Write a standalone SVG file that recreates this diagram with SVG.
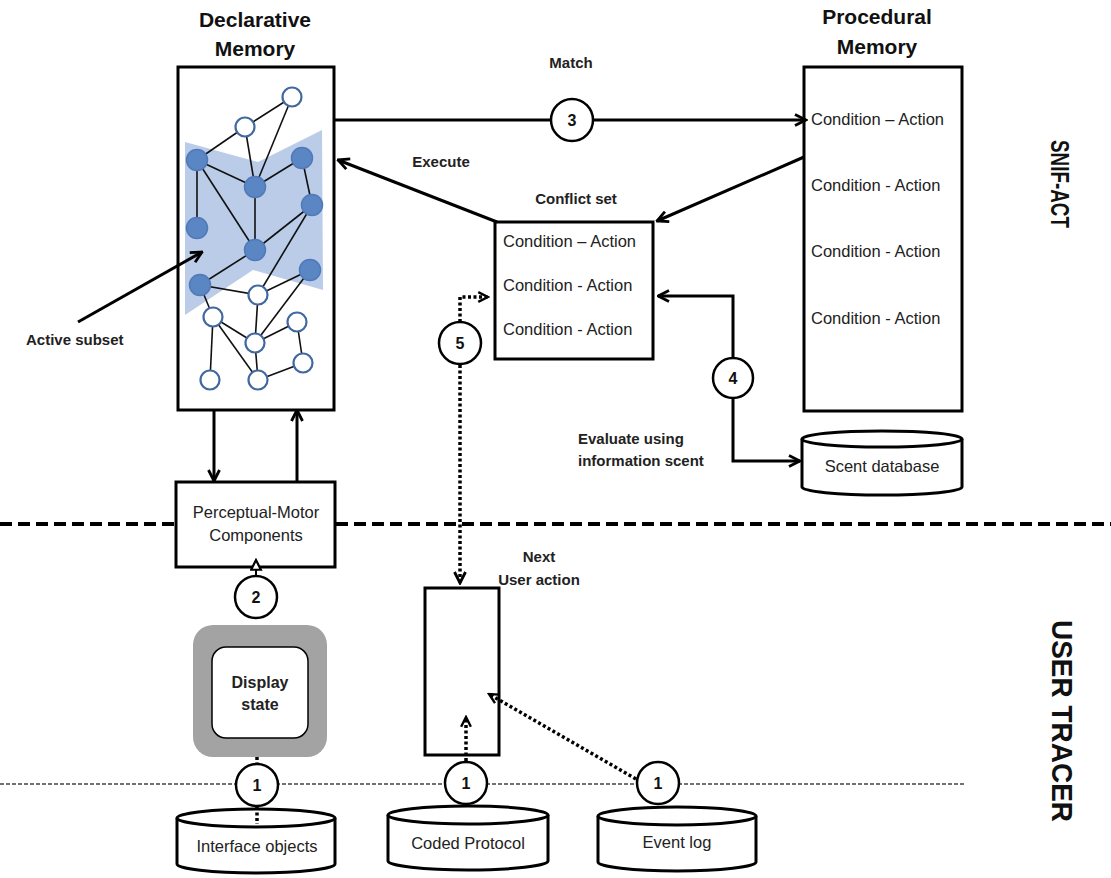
<svg xmlns="http://www.w3.org/2000/svg" width="1111" height="878" viewBox="0 0 1111 878">
<style>
.box{fill:#fff;stroke:#000;stroke-width:3}
.t{font-family:"Liberation Sans",Arial,sans-serif;font-size:16.5px;fill:#222}
.b{font-family:"Liberation Sans",Arial,sans-serif;font-size:15px;font-weight:bold;fill:#222}
.h{font-family:"Liberation Sans",Arial,sans-serif;font-size:21px;font-weight:bold;fill:#111;text-anchor:middle}
.num{font-family:"Liberation Sans",Arial,sans-serif;font-size:16px;font-weight:bold;fill:#111;text-anchor:middle}
.c{text-anchor:middle}
.ln{fill:none;stroke:#000;stroke-width:3}
.dot{fill:none;stroke:#000;stroke-width:3.5;stroke-dasharray:3 2.5}
.circ{fill:#fff;stroke:#000;stroke-width:2.5}
.e{stroke:#111;stroke-width:1.6}
.on{fill:#fff;stroke:#41689f;stroke-width:2.2}
.fn{fill:#5b86c4;stroke:#5079b8;stroke-width:1.5}
.cyl{fill:#fff;stroke:#000;stroke-width:3}
</style>
<defs>
<marker id="arr" viewBox="0 0 14 14" refX="12.5" refY="7" markerWidth="14" markerHeight="14" markerUnits="userSpaceOnUse" orient="auto">
<path d="M1.5,1.5 L12.5,7 L1.5,12.5" fill="none" stroke="#000" stroke-width="2.8"/>
</marker>
<marker id="arrs" viewBox="0 0 12 12" refX="10.5" refY="6" markerWidth="13" markerHeight="13" markerUnits="userSpaceOnUse" orient="auto">
<path d="M1.5,1.5 L10.5,6 L1.5,10.5" fill="none" stroke="#000" stroke-width="2.2"/>
</marker>
<marker id="tri" viewBox="0 0 12 12" refX="10.5" refY="6" markerWidth="13" markerHeight="13" markerUnits="userSpaceOnUse" orient="auto">
<path d="M1.5,1.5 L10.5,6 L1.5,10.5 Z" fill="#fff" stroke="#000" stroke-width="2"/>
</marker>
</defs>

<!-- section dividers -->
<g id="dividers">
<line x1="0" y1="524" x2="176" y2="524" stroke="#000" stroke-width="4" stroke-dasharray="12 6"/>
<line x1="336" y1="524" x2="1111" y2="524" stroke="#000" stroke-width="4" stroke-dasharray="12 6"/>
<line x1="0" y1="784" x2="966" y2="784" stroke="#444" stroke-width="1.3" stroke-dasharray="4 2"/>
</g>

<!-- Declarative memory -->
<g id="declarative-memory">
<text class="h" x="255" y="27">Declarative</text>
<text class="h" x="255" y="56">Memory</text>
<rect class="box" x="178" y="67" width="156" height="343"/>
<polygon points="185,142 258,162 322,130 323,290 253,270 185,315" fill="#b4c7e7" opacity="0.9"/>
<g id="network-edges">
<line class="e" x1="292" y1="97" x2="245" y2="127"/>
<line class="e" x1="292" y1="97" x2="255" y2="187"/>
<line class="e" x1="245" y1="127" x2="197" y2="160"/>
<line class="e" x1="245" y1="127" x2="255" y2="187"/>
<line class="e" x1="197" y1="160" x2="255" y2="187"/>
<line class="e" x1="197" y1="160" x2="197" y2="228"/>
<line class="e" x1="197" y1="160" x2="255" y2="250"/>
<line class="e" x1="255" y1="187" x2="302" y2="158"/>
<line class="e" x1="255" y1="187" x2="255" y2="250"/>
<line class="e" x1="302" y1="158" x2="312" y2="205"/>
<line class="e" x1="312" y1="205" x2="255" y2="250"/>
<line class="e" x1="312" y1="205" x2="258" y2="295"/>
<line class="e" x1="255" y1="250" x2="200" y2="285"/>
<line class="e" x1="200" y1="285" x2="258" y2="295"/>
<line class="e" x1="200" y1="285" x2="213" y2="317"/>
<line class="e" x1="310" y1="270" x2="258" y2="295"/>
<line class="e" x1="310" y1="270" x2="255" y2="343"/>
<line class="e" x1="258" y1="295" x2="255" y2="343"/>
<line class="e" x1="213" y1="317" x2="255" y2="343"/>
<line class="e" x1="213" y1="317" x2="210" y2="380"/>
<line class="e" x1="213" y1="317" x2="258" y2="380"/>
<line class="e" x1="255" y1="343" x2="297" y2="322"/>
<line class="e" x1="255" y1="343" x2="258" y2="380"/>
<line class="e" x1="297" y1="322" x2="303" y2="363"/>
<line class="e" x1="303" y1="363" x2="258" y2="380"/>
</g>
<g id="network-nodes">
<circle class="fn" cx="197" cy="160" r="10.5"/>
<circle class="fn" cx="302" cy="158" r="10.5"/>
<circle class="fn" cx="255" cy="187" r="10.5"/>
<circle class="fn" cx="312" cy="205" r="10.5"/>
<circle class="fn" cx="197" cy="228" r="10.5"/>
<circle class="fn" cx="255" cy="250" r="10.5"/>
<circle class="fn" cx="310" cy="270" r="10.5"/>
<circle class="fn" cx="200" cy="285" r="10.5"/>
<circle class="on" cx="292" cy="97" r="9.5"/>
<circle class="on" cx="245" cy="127" r="9.5"/>
<circle class="on" cx="258" cy="295" r="9.5"/>
<circle class="on" cx="213" cy="317" r="9.5"/>
<circle class="on" cx="297" cy="322" r="9.5"/>
<circle class="on" cx="255" cy="343" r="9.5"/>
<circle class="on" cx="303" cy="363" r="9.5"/>
<circle class="on" cx="210" cy="380" r="9.5"/>
<circle class="on" cx="258" cy="380" r="9.5"/>
</g>
</g>

<!-- Procedural memory -->
<g id="procedural-memory">
<text class="h" x="877" y="24">Procedural</text>
<text class="h" x="877" y="54">Memory</text>
<rect class="box" x="804" y="67" width="158" height="344"/>
<text class="t" x="811" y="125">Condition – Action</text>
<text class="t" x="811" y="191">Condition - Action</text>
<text class="t" x="811" y="257">Condition - Action</text>
<text class="t" x="811" y="324">Condition - Action</text>
</g>

<!-- Conflict set -->
<g id="conflict-set">
<text class="b c" x="576" y="204">Conflict set</text>
<rect class="box" x="495" y="222" width="158" height="137"/>
<text class="t" x="503" y="247">Condition – Action</text>
<text class="t" x="503" y="291">Condition - Action</text>
<text class="t" x="503" y="335">Condition - Action</text>
</g>

<!-- Scent database -->
<g id="scent-database">
<path class="cyl" d="M802,439 V487 A80,8 0 0 0 962,487 V439"/>
<ellipse class="cyl" cx="882" cy="439" rx="80" ry="8"/>
<text class="t c" x="882" y="472">Scent database</text>
</g>

<!-- Perceptual-Motor -->
<g id="perceptual-motor">
<rect class="box" x="176" y="482" width="159" height="85"/>
<text class="t c" x="256" y="518">Perceptual-Motor</text>
<text class="t c" x="256" y="541">Components</text>
</g>

<!-- Display state -->
<g id="display-state">
<rect x="193" y="625" width="134" height="132" rx="20" fill="#a3a3a3"/>
<rect x="212" y="647" width="96" height="91" rx="14" fill="#fff" stroke="#000" stroke-width="1.5"/>
<text class="b c" x="260" y="688" style="font-size:16px">Display</text>
<text class="b c" x="260" y="710" style="font-size:16px">state</text>
</g>

<!-- Next user action box -->
<g id="user-action-box">
<rect class="box" x="425" y="588" width="74" height="167"/>
</g>

<!-- Interface objects -->
<g id="interface-objects">
<path class="cyl" d="M177,818 V864 A79,9 0 0 0 335,864 V818"/>
<ellipse class="cyl" cx="256" cy="818" rx="79" ry="9"/>
<text class="t c" x="257" y="852">Interface objects</text>
</g>

<!-- Coded Protocol -->
<g id="coded-protocol">
<path class="cyl" d="M388,815 V861 A80,9 0 0 0 548,861 V815"/>
<ellipse class="cyl" cx="468" cy="815" rx="80" ry="9"/>
<text class="t c" x="468" y="849">Coded Protocol</text>
</g>

<!-- Event log -->
<g id="event-log">
<path class="cyl" d="M598,816 V862 A79,9 0 0 0 756,862 V816"/>
<ellipse class="cyl" cx="677" cy="816" rx="79" ry="9"/>
<text class="t c" x="677" y="848">Event log</text>
</g>

<!-- Connectors -->
<g id="connectors">
<line class="ln" x1="334" y1="120" x2="806" y2="120" marker-end="url(#arr)"/>
<line class="ln" x1="497" y1="222" x2="338" y2="160" marker-end="url(#arr)"/>
<line class="ln" x1="804" y1="157" x2="657" y2="221" marker-end="url(#arr)"/>
<path class="ln" d="M733,360 V296 H658" marker-end="url(#arr)"/>
<path class="ln" d="M733,398 V461 H800" marker-end="url(#arr)"/>
<line class="ln" x1="214" y1="410" x2="214" y2="481" marker-end="url(#arr)"/>
<line class="ln" x1="297" y1="481" x2="297" y2="410" marker-end="url(#arr)"/>
<line class="ln" x1="78" y1="322" x2="202" y2="252" marker-end="url(#arr)"/>
<path class="dot" d="M460,322 V297 H488" marker-end="url(#arrs)"/>
<path class="dot" d="M460,365 V583" marker-end="url(#arr)"/>
<line x1="256" y1="577" x2="256" y2="560" stroke="#000" stroke-width="2" marker-end="url(#tri)"/>
<path class="dot" d="M257,757 V764"/>
<path class="dot" d="M257,807 V824"/>
<path class="dot" d="M466,761 V717" marker-end="url(#arrs)"/>
<path class="dot" d="M636,779 L489,694" marker-end="url(#arrs)"/>
</g>

<g id="labels">
<text class="b c" x="571" y="68">Match</text>
<text class="b c" x="441" y="167">Execute</text>
<text class="b" x="26" y="345">Active subset</text>
<text class="b" x="578" y="444">Evaluate using</text>
<text class="b" x="578" y="466">information scent</text>
<text class="b c" x="539" y="562">Next</text>
<text class="b c" x="539" y="585">User action</text>
</g>

<g id="circle-3"><circle class="circ" cx="572" cy="120" r="21"/><text class="num" x="572" y="126">3</text></g>
<g id="circle-4"><circle class="circ" cx="733" cy="378" r="20"/><text class="num" x="733" y="384">4</text></g>
<g id="circle-5"><circle class="circ" cx="460" cy="343" r="21"/><text class="num" x="460" y="349">5</text></g>
<g id="circle-2"><circle class="circ" cx="256" cy="597" r="21"/><text class="num" x="256" y="603">2</text></g>
<g id="circle-1a"><circle class="circ" cx="257" cy="785" r="21"/><text class="num" x="257" y="791">1</text></g>
<g id="circle-1b"><circle class="circ" cx="466" cy="783" r="21"/><text class="num" x="466" y="789">1</text></g>
<g id="circle-1c"><circle class="circ" cx="658" cy="783" r="21"/><text class="num" x="658" y="789">1</text></g>

<!-- Section labels -->
<g id="section-labels">
<text class="h" transform="translate(1060,184) rotate(90)" dy="0.35em" style="font-size:25px" textLength="88" lengthAdjust="spacingAndGlyphs">SNIF-ACT</text>
<text class="h" transform="translate(1062,721) rotate(90)" dy="0.35em" style="font-size:29px" textLength="202" lengthAdjust="spacingAndGlyphs">USER TRACER</text>
</g>
</svg>
